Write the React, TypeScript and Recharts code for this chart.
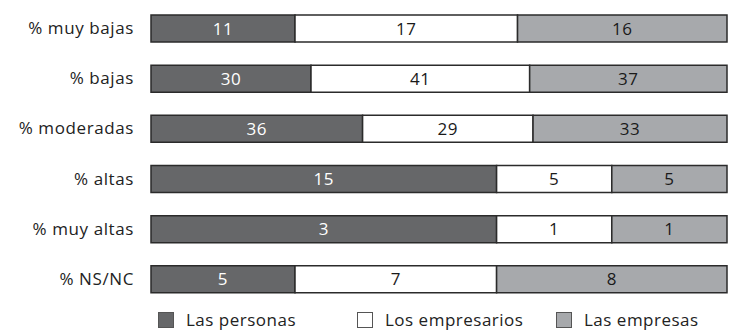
import { BarChart, Bar, XAxis, YAxis, LabelList, Legend } from 'recharts'

const categories = ['% muy bajas', '% bajas', '% moderadas', '% altas', '% muy altas', '% NS/NC']
const personas = [11, 30, 36, 15, 3, 5]
const empresarios = [17, 41, 29, 5, 1, 7]
const empresas = [16, 37, 33, 5, 1, 8]

const series = [
  { key: 'personas', name: 'Las personas', fill: '#666769', text: '#ffffff' },
  { key: 'empresarios', name: 'Los empresarios', fill: '#ffffff', text: '#1a1a1a' },
  { key: 'empresas', name: 'Las empresas', fill: '#a7a9ac', text: '#1a1a1a' },
]

const data = categories.map((c, i) => ({
  cat: c,
  personas: personas[i],
  empresarios: empresarios[i],
  empresas: empresas[i],
}))

const font = '"Open Sans", Lato, sans-serif'

const LegendContent = () => (
  <div
    style={{
      display: 'flex',
      fontFamily: font,
      fontSize: 17,
      letterSpacing: 0.5,
      color: '#222',
      lineHeight: '22px',
    }}
  >
    {series.map((s) => (
      <div key={s.key} style={{ display: 'flex', alignItems: 'center', width: 199 }}>
        <span
          style={{
            width: 14,
            height: 14,
            background: s.fill,
            border: '1px solid #555',
            marginRight: 12,
            display: 'inline-block',
          }}
        />
        {s.name}
      </div>
    ))}
  </div>
)

export default function App() {
  return (
    <div style={{ position: 'absolute', left: 0, top: 0, background: '#fff' }}>
      <BarChart
        width={743}
        height={332}
        data={data}
        layout="vertical"
        stackOffset="expand"
        margin={{ top: 3, right: 16, left: 0, bottom: 6 }}
        barSize={27}
      >
        <XAxis type="number" hide domain={[0, 1]} />
        <YAxis
          type="category"
          dataKey="cat"
          width={151}
          axisLine={false}
          tickLine={false}
          tickMargin={11}
          tick={{ fill: '#222', fontSize: 17, fontFamily: font, letterSpacing: 0.6 }}
        />
        <Legend
          verticalAlign="bottom"
          align="left"
          content={<LegendContent />}
          wrapperStyle={{ left: 158, bottom: 1, width: 600 }}
        />
        {series.map((s) => (
          <Bar
            key={s.key}
            dataKey={s.key}
            name={s.name}
            stackId="a"
            fill={s.fill}
            stroke="#2b2b2b"
            strokeWidth={1.5}
            isAnimationActive={false}
          >
            <LabelList
              dataKey={s.key}
              position="center"
              fill={s.text}
              style={{ fontSize: 17, fontFamily: font, letterSpacing: 0.6 }}
            />
          </Bar>
        ))}
      </BarChart>
    </div>
  )
}
